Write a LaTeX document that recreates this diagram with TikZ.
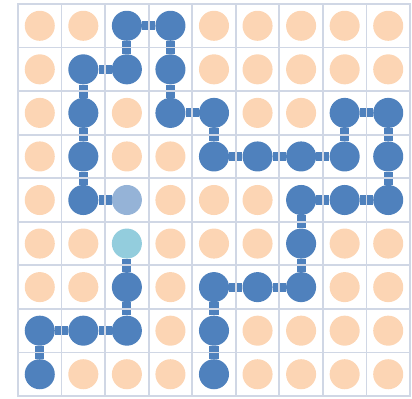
\documentclass[tikz,border=0pt]{standalone}
\usepackage{tikz}
\usetikzlibrary{backgrounds}
\definecolor{gpeach}{HTML}{FCD5B4}
\definecolor{gblue}{HTML}{4F81BD}
\definecolor{gfade}{HTML}{95B3D7}
\definecolor{gcyan}{HTML}{93CDDD}
\definecolor{gline}{HTML}{D0D7E5}
\tikzset{
  gdot/.style={circle, minimum size=0.69cm, inner sep=0pt, fill=gpeach},
  gpath/.style={fill=gblue},
  gfaded/.style={fill=gfade},
  gstart/.style={fill=gcyan},
  glink/.style={draw=gblue, line width=6pt},
  ggrid/.style={draw=gline, line width=1.2pt},
  gframe/.style={draw=gline, line width=1.6pt},
  % cells on the path, column-row, row 0 at the top
  cell 2-0/.style=gpath, cell 3-0/.style=gpath,
  cell 1-1/.style=gpath, cell 2-1/.style=gpath, cell 3-1/.style=gpath,
  cell 1-2/.style=gpath, cell 3-2/.style=gpath, cell 4-2/.style=gpath,
  cell 7-2/.style=gpath, cell 8-2/.style=gpath,
  cell 1-3/.style=gpath, cell 4-3/.style=gpath, cell 5-3/.style=gpath,
  cell 6-3/.style=gpath, cell 7-3/.style=gpath, cell 8-3/.style=gpath,
  cell 1-4/.style=gpath, cell 2-4/.style=gfaded, cell 6-4/.style=gpath,
  cell 7-4/.style=gpath, cell 8-4/.style=gpath,
  cell 2-5/.style=gstart, cell 6-5/.style=gpath,
  cell 2-6/.style=gpath, cell 4-6/.style=gpath, cell 5-6/.style=gpath,
  cell 6-6/.style=gpath,
  cell 0-7/.style=gpath, cell 1-7/.style=gpath, cell 2-7/.style=gpath,
  cell 4-7/.style=gpath,
  cell 0-8/.style=gpath, cell 4-8/.style=gpath,
}

\begin{document}
\begin{tikzpicture}[x=1cm,y=1cm]

  \useasboundingbox (-0.413,-0.046) rectangle (9.046,9.092);

  % cells
  \foreach \c in {0,...,8}
    \foreach \r in {0,...,8}
      \node[gdot, cell \c-\r/.try] (n\c-\r) at (\c+0.5,8.5-\r) {};

  % links, under the grid
  \begin{scope}[on background layer]
    \draw[glink] (n0-8) -- (n0-7) -- (n1-7) -- (n2-7) -- (n2-6) -- (n2-5);
    \draw[glink] (n4-8) -- (n4-7) -- (n4-6) -- (n5-6) -- (n6-6) -- (n6-5)
                 -- (n6-4) -- (n7-4) -- (n8-4) -- (n8-3) -- (n8-2) -- (n7-2)
                 -- (n7-3) -- (n6-3) -- (n5-3) -- (n4-3) -- (n4-2) -- (n3-2)
                 -- (n3-1) -- (n3-0) -- (n2-0) -- (n2-1) -- (n1-1) -- (n1-2)
                 -- (n1-3) -- (n1-4) -- (n2-4);
  \end{scope}

  % grid
  \draw[ggrid] (0,0) grid (9,9);
  \draw[gframe] (0,0) rectangle (9,9);

\end{tikzpicture}
\end{document}
